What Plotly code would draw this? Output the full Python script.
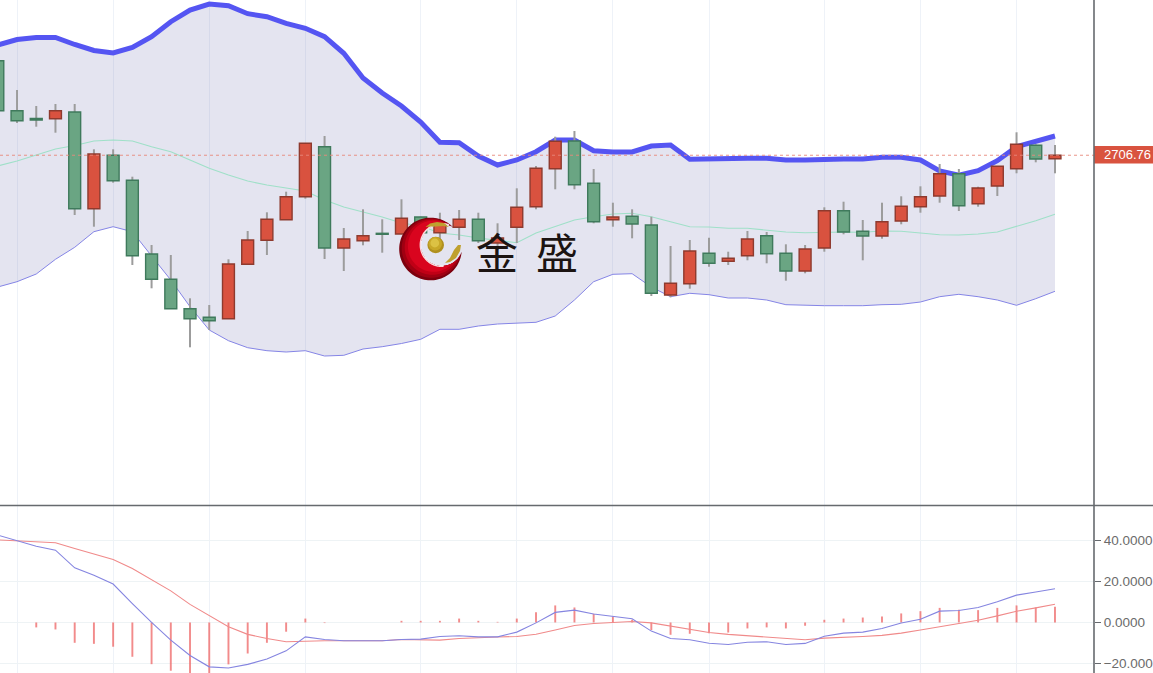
import math
import plotly.graph_objects as go

idx = list(range(56))
high = [2804,2772,2756,2758,2758,2712.7,2712.7,2685.3,2617,2607,2563.7,2557,2602.7,2631,2649.7,2670.3,2719,2726,2634,2652.7,2642.7,2662.7,2645.3,2649.3,2652,2649.3,2638.7,2673.7,2696,2725.3,2731,2693,2659.3,2652.7,2645.3,2616,2622,2624.3,2610.3,2631,2630,2617.7,2617,2654.7,2660.3,2642,2659.3,2665.7,2675.7,2698,2693,2675.3,2696,2729.7,2717.7,2717]
low = [2750,2739,2735.3,2729.3,2647,2635.3,2679.3,2597,2573.7,2553.3,2514.7,2532,2543.3,2597.7,2607,2642.3,2663.3,2603,2591,2616.7,2609.3,2628,2627,2622,2622,2619,2612,2619,2652.7,2672.7,2672.7,2638.7,2635.3,2623.7,2566,2564.7,2573.3,2595.3,2597,2601.7,2598.7,2581.3,2588.7,2610.3,2627.7,2601.7,2623.3,2637.7,2649.3,2659.3,2651,2655.3,2666,2688.7,2699.7,2688.7]
open_ = [2801.3,2751.3,2743.5,2743.3,2750,2653.3,2706.7,2681.7,2608,2582.7,2553.3,2544.7,2543.3,2597.7,2621.7,2642.3,2665.3,2715.3,2614,2621.3,2628.7,2628,2645,2629.3,2634.7,2642.7,2619,2634.7,2655.3,2693.3,2721,2678.7,2642.3,2645.7,2637,2567,2578.3,2608.7,2600.7,2606.3,2626.3,2608.7,2591,2614,2651.3,2630.7,2626,2641,2655.3,2666,2688.3,2658.3,2676,2693.3,2716.7,2703.3]
close = [2751.3,2741.3,2742,2751.3,2653.3,2708,2681.3,2606.3,2582.7,2553.3,2543.3,2541.3,2598,2622,2642.7,2665.3,2718.7,2614,2623,2626.3,2627.7,2643.7,2629.3,2637,2642.7,2621.3,2624,2654.7,2693.7,2720.7,2677.3,2640.3,2645,2638,2568.7,2578.7,2611,2598.7,2603.7,2623,2608.3,2591,2613,2651.3,2630,2626,2640.3,2655.7,2665.3,2688.3,2656.3,2674,2695.7,2717.7,2703,2706.76]
upper = [2817,2822.5,2824.5,2824.5,2817.5,2811.5,2809,2814.5,2825.3,2840.3,2852,2858,2856.3,2848.3,2845.3,2838.7,2833.7,2825.3,2808.7,2784,2769,2756,2740,2719.7,2719.3,2706,2697,2702,2710.3,2722,2722,2711.3,2710,2710,2716,2717,2702.7,2703.3,2703.7,2703.7,2703.7,2702,2702,2703,2703,2703,2704.7,2704.7,2702,2691,2686.7,2691.3,2701.3,2715.3,2720.3,2726]
middle = [2696,2701,2707,2713,2716.5,2721,2722,2721,2715.3,2710.3,2702,2693.7,2687,2681,2677,2673.7,2671,2662,2655,2650,2645,2639,2636,2629,2627,2624,2622,2619.3,2629,2635.3,2642,2645.3,2648,2648.7,2645.3,2640.3,2635.3,2635,2633.7,2633.7,2632,2630,2629.3,2630,2630,2629.7,2631,2630.7,2629.3,2627.3,2627,2628,2630,2635.3,2641.3,2647.7]
lower = [2575,2580.3,2588,2602.7,2614.7,2630.3,2635.3,2630.3,2606,2582,2555.3,2532,2521.3,2514.3,2511.3,2510,2511.3,2506,2506.7,2513,2515.3,2518.5,2522.7,2532.7,2532.7,2536,2538,2538.7,2539.7,2546,2562,2580.3,2587.7,2588.3,2575,2565.3,2568.7,2567.3,2564,2564,2562,2557.3,2556.7,2556.3,2556.3,2556.3,2557.3,2557.7,2560,2565.3,2567.7,2565.3,2562,2556.7,2563.3,2570.7]
dif = [42.5,39.7,37.1,35.2,26.6,23,18.7,9.2,0,-8.6,-16.1,-21.6,-22.2,-20.4,-17.8,-13.8,-7,-8.3,-8.9,-8.9,-8.9,-8.3,-8.1,-6.8,-6.5,-7,-7,-4.7,-0.2,4.9,6,4.1,3.1,1.8,-4.2,-7.8,-8.4,-10.1,-10.7,-9.6,-9.4,-10.7,-10.2,-6.7,-5.2,-4.7,-2.9,-0.3,1.6,5.5,5.8,7.3,10.1,13.3,14.8,16.4]
dea = [40.2,39.7,39.3,38.8,36,33.3,30.7,26.3,20.9,15.4,8.8,3.2,-2.1,-5.8,-7.8,-9.4,-9.1,-8.9,-8.9,-8.9,-8.9,-8.3,-8.3,-8.6,-7.8,-7.3,-7.1,-6.8,-5.7,-3.7,-1.5,-0.5,0,0.5,-0.2,-1.8,-3.1,-4.9,-5.8,-6.5,-7.3,-7.8,-8.4,-7.6,-7.3,-6.8,-6.3,-5.2,-3.7,-2.1,-0.5,1.1,3.2,5.5,7.1,8.9]
hist = [2.4,0,-2.4,-3.4,-9.9,-10.4,-11.8,-16.7,-20.3,-23.5,-26.4,-25.6,-20.4,-15.1,-9.9,-4.5,1.9,-0.3,0,0,0,0.8,0.8,0.8,1.9,0.8,0.3,1.9,5,8.3,7.3,4.2,2.9,1.3,-3.7,-6,-5.5,-5.2,-4.9,-2.9,-2.4,-2.9,-1.6,1.3,1.9,2.4,2.9,4.4,5.5,7.1,6.2,6,7.1,8.3,7.3,7.6]
grid_ticks = [1,6,11,16,22,27,32,37,43,48,53]
macd_ticks = [40,20,0,-20]
macd_labels = ["40.0000","20.0000","0.0000","\u221220.000"]
last_price = 2706.76
brand = ["金","盛"]

W, H, PW = 1153, 673, 1094
def px(x): return x / PW
def py(y): return 1 - y / H

fig = go.Figure()

fig.add_trace(go.Scatter(x=idx, y=lower, mode="lines", line=dict(color="#8585e6", width=1), zorder=0, showlegend=False))
fig.add_trace(go.Scatter(x=idx, y=upper, mode="lines", line=dict(color="#5555f2", width=5), fill="tonexty",
                         fillcolor="rgba(120,120,180,0.2)", zorder=0, showlegend=False))
fig.add_trace(go.Scatter(x=idx, y=middle, mode="lines", line=dict(color="#9fe0c8", width=1.1), zorder=0, showlegend=False))

wx, wy = [], []
for i, h, l in zip(idx, high, low):
    wx += [i, i, None]
    wy += [h, l, None]
fig.add_trace(go.Scatter(x=wx, y=wy, mode="lines", line=dict(color="#9c9c9c", width=2), zorder=1, showlegend=False))

# Candle bodies: floating bars from open to close, up candles red, down candles green
is_up = [c > o for o, c in zip(open_, close)]
fig.add_trace(go.Bar(
    x=idx,
    base=[min(o, c) for o, c in zip(open_, close)],
    y=[abs(c - o) for o, c in zip(open_, close)],
    width=0.62,
    marker=dict(color=["#d9523f" if u else "#6aa583" for u in is_up],
                line=dict(color=["#8e3a2e" if u else "#3f7a5c" for u in is_up], width=1.4)),
    zorder=2, showlegend=False))

fig.add_trace(go.Bar(x=idx, y=hist, width=0.1, marker=dict(color="rgba(238,100,100,0.75)", line_width=0),
                     xaxis="x2", yaxis="y2", showlegend=False))
fig.add_trace(go.Scatter(x=idx, y=dea, mode="lines", line=dict(color="#f08a8a", width=1.1), xaxis="x2", yaxis="y2", showlegend=False))
fig.add_trace(go.Scatter(x=idx, y=dif, mode="lines", line=dict(color="#8585e0", width=1.1), xaxis="x2", yaxis="y2", showlegend=False))

xcommon = dict(range=[0.114, 57.03], tickvals=grid_ticks, showticklabels=False, ticks="",
               showgrid=True, gridcolor="#eef2f8", gridwidth=1.2, zeroline=False, showline=False, fixedrange=True)

shapes = [
    dict(type="line", xref="paper", yref="y", x0=0, x1=1, y0=last_price, y1=last_price,
         line=dict(color="#e8897a", width=0.9, dash="dot"), layer="above"),
    dict(type="rect", xref="paper", yref="paper", x0=1, x1=px(W), y0=py(163.5), y1=py(146),
         fillcolor="#d9533f", line_width=0, layer="above"),
    dict(type="line", xref="paper", yref="paper", x0=0, x1=px(W), y0=py(505.5), y1=py(505.5),
         line=dict(color="#666a6e", width=1.6), layer="above"),
    dict(type="line", xref="paper", yref="paper", x0=1, x1=1, y0=0, y1=1,
         line=dict(color="#666a6e", width=1.6), layer="above"),
]

def circle(cx, cy, r, color):
    return dict(type="circle", xref="paper", yref="paper", x0=px(cx - r), x1=px(cx + r),
                y0=py(cy + r), y1=py(cy - r), fillcolor=color, line_width=0, layer="above")

def path(points, color, close_=True, lw=0):
    d = "M" + " L".join(f"{px(x):.5f},{py(y):.5f}" for x, y in points) + (" Z" if close_ else "")
    s = dict(type="path", xref="paper", yref="paper", path=d, layer="above")
    if close_:
        s.update(fillcolor=color, line_width=0)
    else:
        s.update(line=dict(color=color, width=lw))
    return s

def crescent(ox, oy, r, ix, iy, ir, color):
    """Disc (ox,oy,r) with disc (ix,iy,ir) cut out, as one closed polygon."""
    n = 360
    d = math.hypot(ix - ox, iy - oy)
    base = math.atan2(iy - oy, ix - ox)
    half = math.acos((d*d + r*r - ir*ir) / (2*d*r))
    pts = []
    for k in range(n + 1):
        a = base + half + (2*math.pi - 2*half) * k / n
        pts.append((ox + r*math.cos(a), oy + r*math.sin(a)))
    base2 = math.atan2(oy - iy, ox - ix)
    half2 = math.acos((d*d + ir*ir - r*r) / (2*d*ir))
    for k in range(n + 1):
        a = base2 + half2 - 2*half2 * k / n
        pts.append((ix + ir*math.cos(a), iy + ir*math.sin(a)))
    return path(pts[::4], color)

ICX, ICY, IR = 441.7, 245, 21
ring = []
n = 90
for k in range(n + 1):
    a = math.radians(-70 - 205 * k / n)
    ring.append((ICX + (IR + 0.3)*math.cos(a), ICY + (IR + 0.3)*math.sin(a)))

shapes += [
    crescent(430.5, 249, 31.3, ICX, ICY, IR, "#7c000e"),
    crescent(431.3, 248.2, 29.6, ICX, ICY, IR, "#a00012"),
    crescent(432.3, 247.2, 27.6, ICX, ICY, IR, "#c00016"),
    crescent(433.5, 246.2, 25.6, ICX, ICY, IR, "#d9041e"),
    path(ring, "rgba(255,255,255,0.85)", close_=False, lw=1.6),
    circle(435.7, 245, 8.3, "#b0901f"),
    circle(435.2, 243.8, 6.8, "#c8a828"),
    circle(434.8, 243, 4.4, "#dcc244"),
    path([(425.5, 227), (430, 223.5), (437, 222), (444, 223), (449, 227), (443, 226), (436, 226.5), (430, 226.5)], "#bfa02e"),
    path([(445, 263), (450, 258), (454, 250), (458, 245), (461, 245), (460, 251), (456, 258), (450, 262)], "#bfa02e"),
]

annotations = [
    dict(xref="paper", yref="paper", x=px(1103.5), y=py(154.8), xanchor="left", yanchor="middle", showarrow=False,
         text=str(last_price), font=dict(color="white", size=13, family="Liberation Sans"), borderpad=0, xshift=-1),
    dict(xref="paper", yref="paper", x=px(496.5), y=py(250), xanchor="center", yanchor="middle", showarrow=False,
         text=brand[0], font=dict(color="#1c1412", size=42, family="Noto Sans CJK SC")),
    dict(xref="paper", yref="paper", x=px(556.5), y=py(250), xanchor="center", yanchor="middle", showarrow=False,
         text=brand[1], font=dict(color="#1c1412", size=42, family="Noto Sans CJK SC")),
]

fig.update_layout(
    width=W, height=H, margin=dict(l=0, r=W - PW, t=0, b=0, pad=0, autoexpand=False),
    paper_bgcolor="white", plot_bgcolor="white", showlegend=False, hovermode=False,
    barmode="overlay",
    xaxis=dict(domain=[0, 1], anchor="y", **xcommon),
    xaxis2=dict(domain=[0, 1], anchor="y2", **xcommon),
    yaxis=dict(domain=[1 - 505 / H, 1], range=[2357, 2862], side="right", anchor="x", showgrid=False, zeroline=False,
               tickvals=[last_price], showticklabels=False, ticks="outside", ticklen=6, tickcolor="#8a8a8a",
               showline=False, fixedrange=True),
    yaxis2=dict(domain=[0, 1 - 506 / H], range=[-24.6, 56.7], side="right", anchor="x2", showgrid=True,
                gridcolor="#eef3f5", zeroline=False, tickvals=macd_ticks, ticktext=macd_labels,
                ticks="outside", ticklen=6, tickcolor="#666a6e", showline=False, fixedrange=True,
                tickfont=dict(color="#6b6b6b", size=13.5, family="Liberation Sans")),
    shapes=shapes, annotations=annotations,
)

fig.write_html("out.html", config=dict(displayModeBar=False),
               post_script="document.body.style.margin='0';document.body.style.overflow='hidden';")
